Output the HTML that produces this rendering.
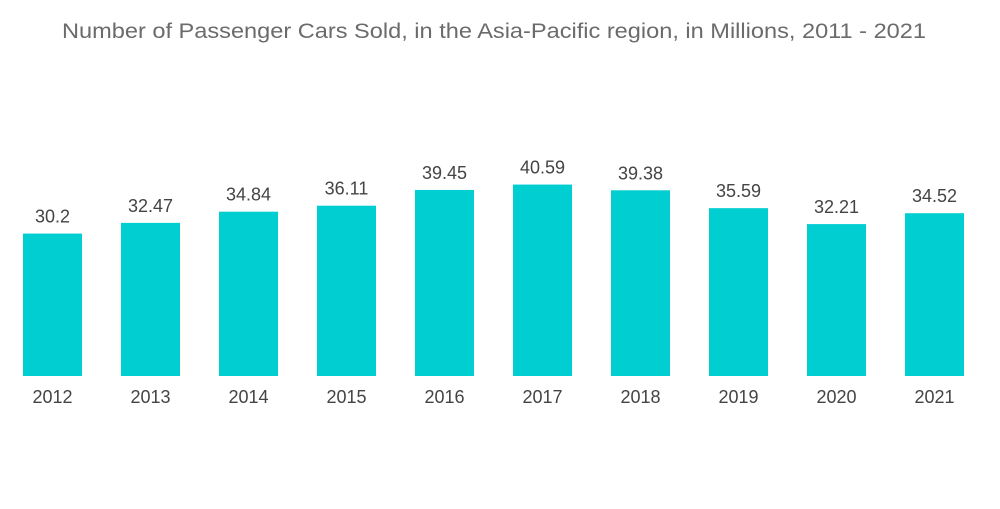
<!DOCTYPE html>
<html><head><meta charset="utf-8"><style>
body{margin:0;background:#fff;width:1000px;height:504px;overflow:hidden;font-family:"Liberation Sans",sans-serif}
</style></head><body>
<svg width="1000" height="504">
<text x="494" y="38" text-anchor="middle" font-size="21" fill="#6b6b6b" textLength="864" lengthAdjust="spacingAndGlyphs">Number of Passenger Cars Sold, in the Asia-Pacific region, in Millions,  2011 - 2021</text>
<g id="bars"></g>
</svg>
<script>
const categories=["2012","2013","2014","2015","2016","2017","2018","2019","2020","2021"];
const values=[30.2,32.47,34.84,36.11,39.45,40.59,39.38,35.59,32.21,34.52];
const labels=["30.2","32.47","34.84","36.11","39.45","40.59","39.38","35.59","32.21","34.52"];
const base=376, scale=4.716, x0=23, step=98, bw=59;
const g=document.getElementById('bars');
const ns="http://www.w3.org/2000/svg";
const y=v=>base-v*scale;
categories.forEach((c,i)=>{
 const x=x0+i*step;
 const r=document.createElementNS(ns,'rect');
 r.setAttribute('x',x);r.setAttribute('y',y(values[i]));r.setAttribute('width',bw);r.setAttribute('height',base-y(values[i]));r.setAttribute('fill','#00ced1');
 
 
 g.appendChild(r);
 const t=document.createElementNS(ns,'text');
 t.setAttribute('x',x+bw/2);t.setAttribute('y',y(values[i])-11);t.setAttribute('text-anchor','middle');t.setAttribute('font-size','18');t.setAttribute('fill','#444');
 t.textContent=labels[i];
 
 
 g.appendChild(t);
 const a=document.createElementNS(ns,'text');
 a.setAttribute('x',x+bw/2);a.setAttribute('y',403);a.setAttribute('text-anchor','middle');a.setAttribute('font-size','18');a.setAttribute('fill','#444');
 a.textContent=c;
 
 
 g.appendChild(a);
});
</script>
</body></html>
